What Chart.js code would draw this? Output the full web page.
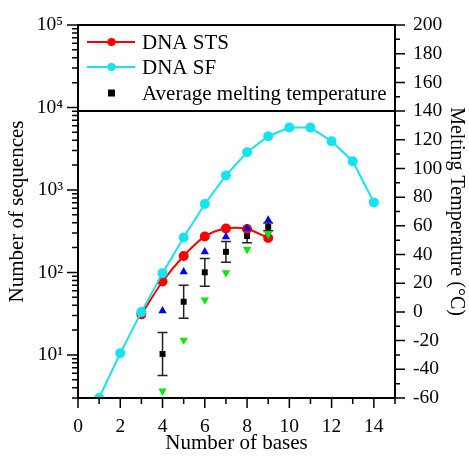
<!DOCTYPE html>
<html>
<head>
<meta charset="utf-8">
<script src="https://cdn.jsdelivr.net/npm/chart.js@4.4.1/dist/chart.umd.min.js"></script>
<style>
  html, body { margin: 0; padding: 0; background: #fff; }
  canvas { display: block; }
</style>
</head>
<body>
<canvas id="c" width="469" height="456"></canvas>
<script>
// number of sequences vs number of bases
const sfBases = [1, 2, 3, 4, 5, 6, 7, 8, 9, 10, 11, 12, 13, 14]
const sfCounts = [3, 10.5, 33, 98, 265, 676, 1500, 2860, 4480, 5720, 5700, 3900, 2230, 706]
const stsBases = [3, 4, 5, 6, 7, 8, 9]
const stsCounts = [31, 77.5, 158, 273, 341, 336, 261]

// melting temperature (right axis)
const tmBases = [4, 5, 6, 7, 8, 9]
const tmAvg = [-29.3, 7.1, 27.6, 41.9, 52.9, 59.3]
const tmErr = [15, 11.5, 9.7, 7.2, 4.7, 2.7]
const tmMax = [0.8, 28, 41.9, 52.4, 58.2, 64]
const tmMin = [-55.1, -19.6, 8.3, 27.3, 43.6, 54.2]

const xTicks = [0, 2, 4, 6, 8, 10, 12, 14]
const yTicks = [10, 100, 1000, 10000, 100000]
const tTicks = [-60, -40, -20, 0, 20, 40, 60, 80, 100, 120, 140, 160, 180, 200]

const SERIF = '"Liberation Serif", "DejaVu Serif", serif'
const SUP = {'0':'⁰','1':'¹','2':'²','3':'³','4':'⁴','5':'⁵','6':'⁶','7':'⁷','8':'⁸','9':'⁹'}

const pts = (xs, ys) => xs.map((x, i) => ({x, y: ys[i]}))
const noPad = s => { s.paddingTop = 0; s.paddingBottom = 0; s.paddingLeft = 0; s.paddingRight = 0 }

// frame, tick marks, legend separator, error bars and legend
const decor = {
  id: 'decor',
  beforeDatasetsDraw(chart){
    const c = chart.ctx, xs = chart.scales.x, ts = chart.scales.y1
    c.save()
    c.strokeStyle = '#222'
    c.lineWidth = 1.5
    tmBases.forEach((b, i) => {
      const px = xs.getPixelForValue(b)
      const top = ts.getPixelForValue(tmAvg[i] + tmErr[i])
      const bot = ts.getPixelForValue(tmAvg[i] - tmErr[i])
      c.beginPath()
      c.moveTo(px, top); c.lineTo(px, bot)
      c.moveTo(px - 5, top); c.lineTo(px + 5, top)
      c.moveTo(px - 5, bot); c.lineTo(px + 5, bot)
      c.stroke()
    })
    c.restore()
  },
  afterDraw(chart){
    const c = chart.ctx, a = chart.chartArea
    const xs = chart.scales.x, ys = chart.scales.y, ts = chart.scales.y1
    c.save()
    c.strokeStyle = '#000'
    c.lineWidth = 2
    c.strokeRect(a.left, a.top, a.right - a.left, a.bottom - a.top)
    // legend box bottom edge
    const ly = ts.getPixelForValue(140)
    c.beginPath(); c.moveTo(a.left, ly); c.lineTo(a.right, ly); c.stroke()

    c.lineWidth = 1.5
    c.beginPath()
    // bottom ticks
    for(let v = 0; v <= 15; v++){
      const px = xs.getPixelForValue(v)
      c.moveTo(px, a.bottom); c.lineTo(px, a.bottom + (v % 2 === 0 ? 10 : 6))
    }
    // left log ticks
    for(let e = 0; e <= 5; e++){
      for(let m = 1; m <= 9; m++){
        const v = m * Math.pow(10, e)
        if(v < 3 || v > 100000) continue
        const py = ys.getPixelForValue(v)
        c.moveTo(a.left, py); c.lineTo(a.left - (m === 1 ? 11 : 6), py)
      }
    }
    // right ticks
    for(let v = -60; v <= 200; v += 10){
      const py = ts.getPixelForValue(v)
      c.moveTo(a.right, py); c.lineTo(a.right + (v % 20 === 0 ? 10 : 5), py)
    }
    c.stroke()

    // legend
    const rows = [42, 67, 93]
    const lx0 = 87, lx1 = 135, lxm = 111.5
    c.font = '21px ' + SERIF
    c.fillStyle = '#000'
    c.textBaseline = 'middle'
    chart.data.datasets.slice(0, 3).forEach((ds, i) => {
      const y = rows[i]
      if(ds.showLine){
        c.strokeStyle = ds.borderColor
        c.lineWidth = 2
        c.beginPath(); c.moveTo(lx0, y); c.lineTo(lx1, y); c.stroke()
        c.fillStyle = ds.backgroundColor
        c.beginPath(); c.arc(lxm, y, 4, 0, Math.PI * 2); c.fill()
      } else {
        c.fillStyle = '#000'
        c.fillRect(lxm - 3.5, y - 3.5, 7, 7)
      }
      c.fillStyle = '#000'
      c.fillText(ds.label, 142, y + 1)
    })
    c.restore()
  }
}

new Chart(document.getElementById('c'), {
  type: 'scatter',
  data: {
    datasets: [
      {label: 'DNA STS', data: pts(stsBases, stsCounts), yAxisID: 'y', showLine: true,
       borderColor: '#ff0000', backgroundColor: '#ff0000', borderWidth: 2, pointRadius: 4,
       tension: 0.3, order: 3},
      {label: 'DNA SF', data: pts(sfBases, sfCounts), yAxisID: 'y', showLine: true,
       borderColor: '#14e4ee', backgroundColor: '#14e4ee', borderWidth: 2, pointRadius: 4,
       tension: 0, order: 2},
      {label: 'Average melting temperature', data: pts(tmBases, tmAvg), yAxisID: 'y1',
       showLine: false, pointStyle: 'rect', pointRadius: 4.2, backgroundColor: '#000',
       borderColor: '#000', borderWidth: 0, order: 0},
      {label: 'max', data: pts(tmBases, tmMax), yAxisID: 'y1', showLine: false,
       pointStyle: 'triangle', pointRadius: 4.8, backgroundColor: '#0000ff', borderColor: '#0000ff',
       borderWidth: 0, order: 1},
      {label: 'min', data: pts(tmBases, tmMin), yAxisID: 'y1', showLine: false,
       pointStyle: 'triangle', rotation: 180, pointRadius: 4.8, backgroundColor: '#00ee00',
       borderColor: '#00ee00', borderWidth: 0, order: 1}
    ]
  },
  options: {
    responsive: false,
    animation: false,
    devicePixelRatio: 1,
    layout: {padding: {top: 25, left: 0, right: 0, bottom: 0}},
    plugins: {legend: {display: false}, tooltip: {enabled: false}},
    scales: {
      x: {
        type: 'linear', min: 0, max: 15,
        afterBuildTicks: s => { s.ticks = xTicks.map(v => ({value: v})) },
        afterFit: s => { s.height = 58; noPad(s) },
        grid: {display: false, drawTicks: false}, border: {display: false},
        ticks: {padding: 17, color: '#000', font: {family: SERIF, size: 19.5}},
        title: {display: true, text: 'Number of bases', color: '#000', padding: {top: 0, bottom: 0},
                font: {family: SERIF, size: 21}}
      },
      y: {
        type: 'logarithmic', position: 'left', min: 3, max: 100000,
        afterBuildTicks: s => { s.ticks = yTicks.map(v => ({value: v})) },
        afterFit: s => { s.width = 78; noPad(s) },
        grid: {display: false, drawTicks: false}, border: {display: false},
        ticks: {padding: 15, color: '#000', font: {family: SERIF, size: 19.5},
                callback: v => '10' + String(Math.round(Math.log10(v))).split('').map(d => SUP[d]).join('')},
        title: {display: true, text: 'Number of sequences', color: '#000', padding: {top: 5, bottom: 0},
                font: {family: SERIF, size: 21}}
      },
      y1: {
        type: 'linear', position: 'right', min: -60, max: 200,
        afterBuildTicks: s => { s.ticks = tTicks.map(v => ({value: v})) },
        afterFit: s => { s.width = 74; noPad(s) },
        grid: {display: false, drawTicks: false}, border: {display: false},
        ticks: {padding: 18, color: '#000', font: {family: SERIF, size: 19.5}},
        title: {display: true, text: 'Melting Temperature (°C)', color: '#000', padding: {top: 1, bottom: 0},
                font: {family: SERIF, size: 20}}
      }
    }
  },
  plugins: [decor]
})
</script>
</body>
</html>
